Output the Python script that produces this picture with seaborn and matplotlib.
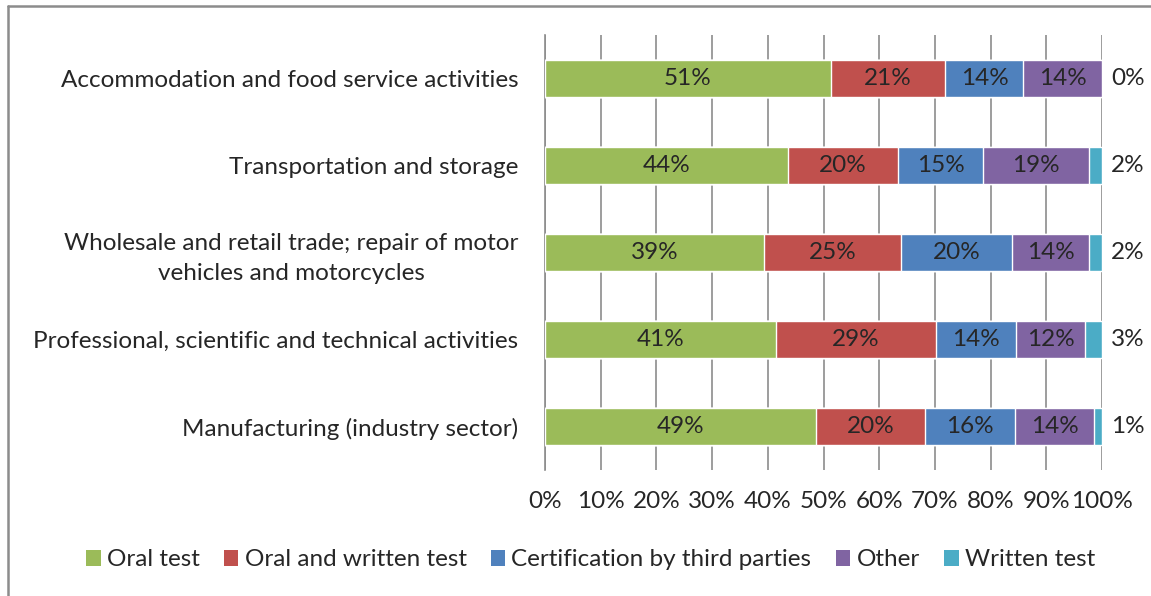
import numpy as np
import pandas as pd
import matplotlib
matplotlib.use("Agg")
import matplotlib.pyplot as plt
from matplotlib.patches import Patch
from matplotlib.lines import Line2D
import seaborn as sns


# -----------------------------
sectors = [
    "Accommodation and food service activities",
    "Transportation and storage",
    "Wholesale and retail trade; repair of motor\nvehicles and motorcycles",
    "Professional, scientific and technical activities",
    "Manufacturing (industry sector)",
]
series_names = ["Oral test", "Oral and written test", "Certification by third parties",
                "Other", "Written test"]
oral = [51.3, 43.6, 39.3, 41.4, 48.7]
oral_written = [20.6, 19.8, 24.6, 28.8, 19.6]
certification = [14.0, 15.2, 19.9, 14.4, 16.1]
other = [14.1, 19.1, 13.9, 12.4, 14.2]
written = [0.0, 2.3, 2.3, 3.0, 1.4]
xtick_labels = ["0%", "10%", "20%", "30%", "40%", "50%", "60%", "70%", "80%", "90%", "100%"]

colors = ["#9BBB59", "#C0504D", "#4F81BD", "#8064A2", "#4BACC6"]

df = pd.DataFrame({"sector": sectors, "Oral test": oral, "Oral and written test": oral_written,
                   "Certification by third parties": certification, "Other": other,
                   "Written test": written})
cum = df[series_names].cumsum(axis=1)

# -----------------------------
sns.set_style("white")
plt.rcParams["font.family"] = ["Lato", "DejaVu Sans"]
fs = 17.5

fig = plt.figure(figsize=(11.51, 5.96), dpi=100)
ax = fig.add_axes([545 / 1151, 1 - 470 / 596, (1102 - 545) / 1151, (470 - 35) / 596])

# stacked look: draw cumulative totals from the widest down
for i in range(len(series_names) - 1, -1, -1):
    sns.barplot(x=cum[series_names[i]], y=df["sector"], color=colors[i], saturation=1,
                width=0.43, orient="h", ax=ax, zorder=3)

# value labels
for i, name in enumerate(series_names):
    for j in range(len(sectors)):
        val = df[name][j]
        if name == "Written test":
            ax.text(101.6, j, f"{val:.0f}%", ha="left", va="center", fontsize=fs, clip_on=False)
        else:
            mid = cum[name][j] - val / 2
            ax.text(mid, j, f"{val:.0f}%", ha="center", va="center", fontsize=fs, zorder=4)

ax.set_xlim(0, 100)
ax.set_ylim(4.5, -0.5)
ax.set_xticks(np.arange(0, 101, 10))
ax.set_xticklabels(xtick_labels, fontsize=fs)
ax.set_yticks(range(len(sectors)))
ax.set_yticklabels(sectors, fontsize=fs, multialignment="center", linespacing=1.5)
ax.set_yticks(np.arange(-0.5, 5, 1), minor=True)
ax.set_xlabel("")
ax.set_ylabel("")

ax.grid(axis="x", color="#8C8C8C", linewidth=1.2, zorder=0)
ax.grid(axis="y", visible=False)
for s in ["top", "right", "bottom"]:
    ax.spines[s].set_visible(False)
ax.spines["left"].set_color("#8C8C8C")
ax.spines["left"].set_linewidth(1.2)
ax.tick_params(axis="y", which="major", length=0, pad=19)
ax.tick_params(axis="y", which="minor", length=6, color="#8C8C8C", width=1.2, direction="out")
ax.tick_params(axis="x", length=7, color="#8C8C8C", width=1.2, direction="out", pad=8)

handles = [Patch(facecolor=c, edgecolor="none") for c in colors]
fig.legend(handles, series_names, loc="center", bbox_to_anchor=(0.513, 1 - 560 / 596), ncol=5,
           frameon=False, fontsize=fs, handlelength=0.6, handleheight=0.6, handletextpad=0.25,
           columnspacing=1.0)

# outer chart frame (left and top edges only)
fig.add_artist(Line2D([8 / 1151, 8 / 1151], [0, 1 - 6 / 596], color="#8C8C8C", linewidth=1.8))
fig.add_artist(Line2D([8 / 1151, 1], [1 - 6 / 596, 1 - 6 / 596], color="#8C8C8C", linewidth=1.8))

fig.savefig("out.png", dpi=100)
